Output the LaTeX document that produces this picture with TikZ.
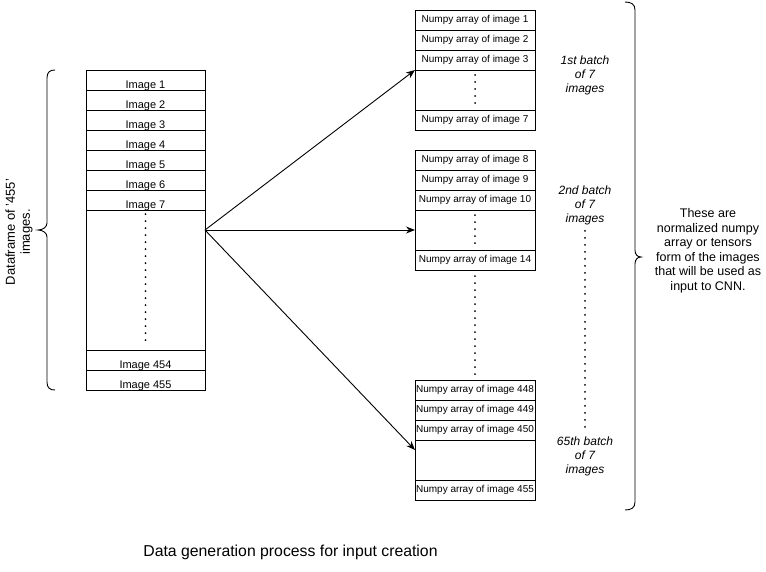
\documentclass[tikz,border=0pt]{standalone}
\usepackage{fontspec}
\setmainfont{Liberation Sans}
\usetikzlibrary{arrows.meta,calc}
\begin{document}
\begin{tikzpicture}[x=1pt,y=-1pt,
  box/.style={draw=black, line width=0.9pt, fill=white, inner sep=0pt, outer sep=0pt,
    minimum width=#1, minimum height=20pt},
  box/.default=119pt,
  lrow/.style={box=119pt, label={[font=\fontsize{11}{13}\selectfont, inner sep=0pt, yshift=-5.5pt]center:#1}},
  rrow/.style={box=120pt, font=\fontsize{10}{12}\selectfont},
  lgap/.style={box=119pt, minimum height=140pt},
  rgap/.style={box=120pt, minimum height=40pt},
  dots/.style={line width=2pt, line cap=round, dash pattern=on 0pt off 7pt},
  batchlbl/.style={align=center, font=\fontsize{12}{14}\selectfont\itshape, inner sep=0pt},
  note/.style={align=center, font=\fontsize{12.5}{14.5}\selectfont, inner sep=0pt},
  brace/.style={line width=0.9pt},
  arr/.style={line width=0.9pt, -{Stealth[length=9pt,width=7pt]}}
]
\useasboundingbox (0,0) rectangle (766,571);

% left column
\foreach \i in {1,...,7}{
  \node[lrow={Image \i}] (L\i) at (145.5,{60+20*\i}) {};
}
\node[lgap] (Lgap) at (145.5,280) {};
\node[lrow={Image 454}] (L454) at (145.5,360) {};
\node[lrow={Image 455}] (L455) at (145.5,380) {};
\draw[dots] ($(Lgap.north)+(0,4)$) -- ($(Lgap.south)+(0,-4)$);

% batch 1
\node[rrow] (A1) at (475,20) {Numpy array of image 1};
\node[rrow] (A2) at (475,40) {Numpy array of image 2};
\node[rrow] (A3) at (475,60) {Numpy array of image 3};
\node[rgap] (Agap) at (475,90) {};
\node[rrow] (A7) at (475,120) {Numpy array of image 7};
\draw[dots] ($(Agap.north)+(0,5)$) -- ($(Agap.south)+(0,-3)$);

% batch 2
\node[rrow] (B8) at (475,160) {Numpy array of image 8};
\node[rrow] (B9) at (475,180) {Numpy array of image 9};
\node[rrow] (B10) at (475,200) {Numpy array of image 10};
\node[rgap] (Bgap) at (475,230) {};
\node[rrow] (B14) at (475,260) {Numpy array of image 14};
\draw[dots] ($(Bgap.north)+(0,5)$) -- ($(Bgap.south)+(0,-3)$);

% batch 3
\node[rrow] (C448) at (475,390) {Numpy array of image 448};
\node[rrow] (C449) at (475,410) {Numpy array of image 449};
\node[rrow] (C450) at (475,430) {Numpy array of image 450};
\node[rgap] (Cgap) at (475,460) {};
\node[rrow] (C455) at (475,490) {Numpy array of image 455};
\draw[dots] ($(B14.south)+(0,6)$) -- ($(C448.north)+(0,-5)$);

% arrows
\coordinate (src) at (205,230);
\draw[arr] (src) -- (Agap.north west);
\draw[arr] (src) -- (Bgap.west);
\draw[arr] (src) -- ($(Cgap.north west)+(0,10)$);

% batch labels
\node[batchlbl] (T1) at (585,75.5) {1st batch\\of 7\\images};
\node[batchlbl] (T2) at (585,205) {2nd batch\\of 7\\images};
\node[batchlbl] (T3) at (585,456) {65th batch\\of 7\\images};
\draw[dots] ($(T2.south)+(0,6)$) -- ($(T3.north)+(0,-4)$);

% left brace
\draw[brace] (55,70) .. controls (50,70) and (47,72) .. (47,78) -- (47,223)
  .. controls (47,227) and (43,230) .. (38,230)
  .. controls (43,230) and (47,233) .. (47,237) -- (47,382)
  .. controls (47,388) and (50,390) .. (55,390);
\node[align=center, inner sep=0pt, font=\fontsize{13}{15}\selectfont, rotate=90] (dftext) at (19,232) {Dataframe of '455'\\images.};

% right brace
\draw[brace] (625,2) .. controls (631,2) and (635,4) .. (635,10) -- (635,250)
  .. controls (635,254) and (637,257) .. (641,257)
  .. controls (637,257) and (635,260) .. (635,264) -- (635,502)
  .. controls (635,508) and (631,510) .. (625,510);
\node[note] (rtext) at (708,251) {These are\\normalized numpy\\array or tensors\\form of the images\\that will be used as\\input to CNN.};

% caption
\node[inner sep=0pt, font=\fontsize{15.8}{18}\selectfont] (cap) at (290.5,552) {Data generation process for input creation};
\end{tikzpicture}
\end{document}
